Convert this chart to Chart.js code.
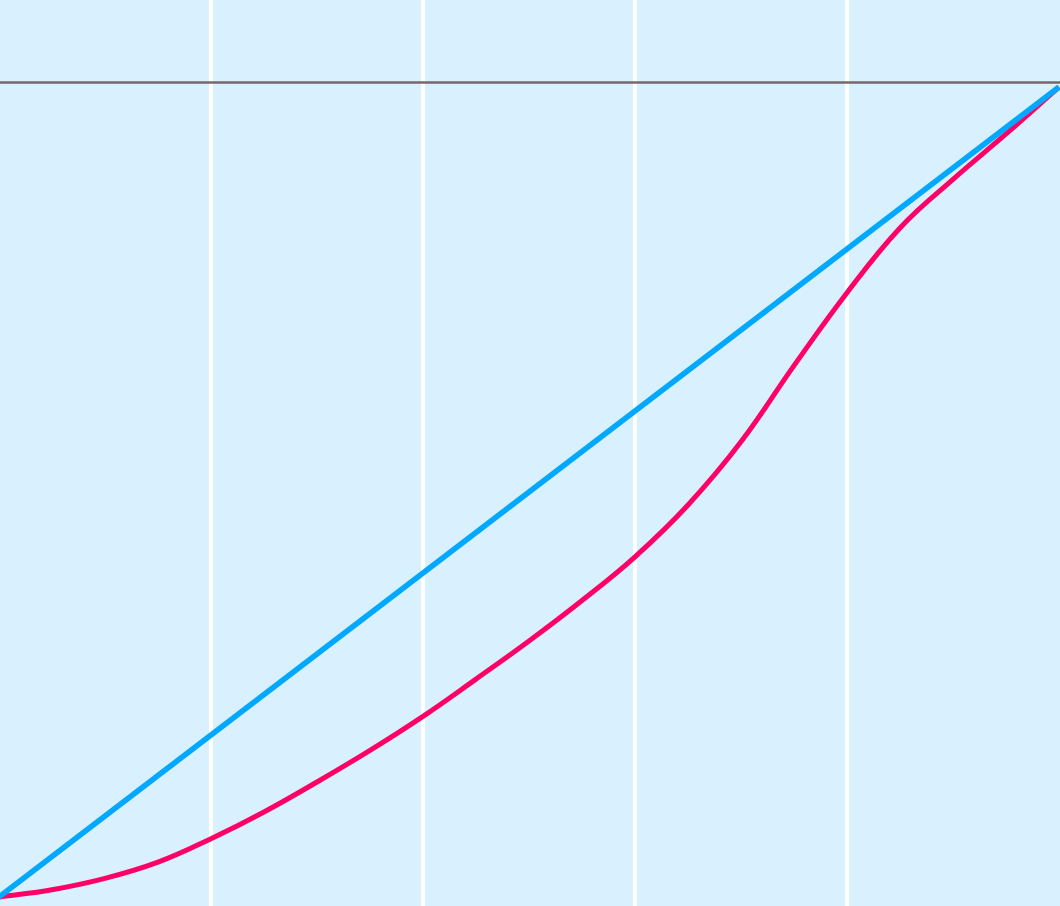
<!DOCTYPE html>
<html>
<head>
<meta charset="utf-8">
<script src="https://cdn.jsdelivr.net/npm/chart.js@4/dist/chart.umd.min.js"></script>
<style>
  html, body { margin: 0; padding: 0; background: #ffffff; }
  #wrap { width: 1060px; height: 906px; position: relative; }
</style>
</head>
<body>
<div id="wrap"><canvas id="lorenz"></canvas></div>
<script>
  // Cumulative share of population (x) and of income (y)
  const popShare = [0, 0.05, 0.1, 0.15, 0.2, 0.25, 0.3, 0.35, 0.4, 0.45, 0.5,
                    0.55, 0.6, 0.65, 0.7, 0.75, 0.8, 0.85, 0.9, 0.95, 1];
  const incomeShare = [0, 0.009, 0.023, 0.043, 0.072, 0.105, 0.142, 0.181, 0.223, 0.269, 0.316,
                       0.366, 0.42, 0.484, 0.562, 0.656, 0.746, 0.826, 0.886, 0.942, 1];
  // Line of perfect equality
  const equalityX = [0, 1];
  const equalityY = [0, 1];
  // Top reference line
  const refX = [-0.01, 1.01];
  const refY = [1.0056, 1.0056];
  // Vertical grid positions
  const xGridTicks = [0.2, 0.4, 0.6, 0.8];

  const zip = (xs, ys) => xs.map((x, i) => ({ x, y: ys[i] }));

  const bgPlugin = {
    id: 'bg',
    beforeDraw(chart) {
      const ctx = chart.ctx;
      ctx.save();
      ctx.fillStyle = '#d9f0fe';
      ctx.fillRect(0, 0, chart.width, chart.height);
      ctx.restore();
    }
  };

  new Chart(document.getElementById('lorenz'), {
    type: 'line',
    data: {
      datasets: [
        {
          label: 'Equality',
          data: zip(equalityX, equalityY),
          borderColor: '#00a8ff',
          borderWidth: 5.5,
          pointRadius: 0,
          tension: 0
        },
        {
          label: 'Lorenz curve',
          data: zip(popShare, incomeShare),
          borderColor: '#ff0066',
          borderWidth: 5,
          pointRadius: 0,
          tension: 0.4
        },
        {
          label: 'Reference',
          data: zip(refX, refY),
          borderColor: '#776868',
          borderWidth: 2.5,
          pointRadius: 0,
          tension: 0
        }
      ]
    },
    options: {
      responsive: true,
      maintainAspectRatio: false,
      animation: false,
      layout: { padding: 0 },
      plugins: { legend: { display: false }, tooltip: { enabled: false } },
      scales: {
        x: {
          type: 'linear',
          min: 1 / 1060,
          max: 1 + 1 / 1060,
          afterBuildTicks: (axis) => { axis.ticks = xGridTicks.map(v => ({ value: v })); },
          ticks: { display: false },
          border: { display: false },
          grid: { color: '#ffffff', lineWidth: 4, drawTicks: false }
        },
        y: {
          display: false,
          min: -9 / 810,
          max: 1 + 87 / 810
        }
      }
    },
    plugins: [bgPlugin]
  });
</script>
</body>
</html>
